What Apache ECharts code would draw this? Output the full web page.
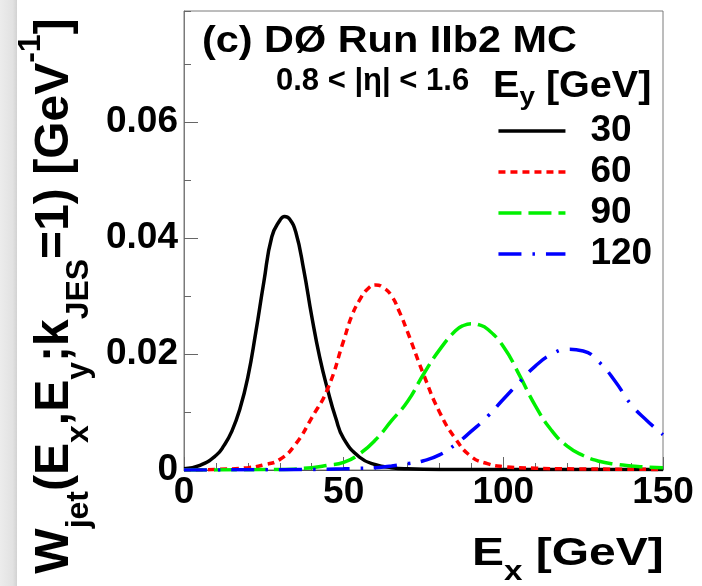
<!DOCTYPE html>
<html>
<head>
<meta charset="utf-8">
<script src="https://cdn.jsdelivr.net/npm/echarts@6/dist/echarts.min.js"></script>
<style>
  html, body { margin: 0; padding: 0; background: #ffffff; }
  #chart { width: 702px; height: 586px; }
</style>
</head>
<body>
<div id="chart"></div>
<script>
// Jet energy transfer functions W_jet(E_x, E_y; k_JES = 1) for four parton energies E_y.
const seriesNames = ['30', '60', '90', '120'];

// E_y = 30 GeV
const ex30 = [0, 5, 10, 12.5, 15, 17.5, 20, 22.5, 25, 27.5, 30, 31.5, 33, 35, 37.5, 40, 42.5, 45, 47.5, 50, 55, 60, 65, 70, 80, 100, 150];
const w30  = [0.0002, 0.0008, 0.0025, 0.0042, 0.0067, 0.0105, 0.0160, 0.0238, 0.0324, 0.0402, 0.0430, 0.0437, 0.0433, 0.0410, 0.0345, 0.0265, 0.0194, 0.0138, 0.0090, 0.0054, 0.0022, 0.0009, 0.0004, 0.0002, 0.0001, 0.0001, 0.0001];

// E_y = 60 GeV
const ex60 = [0, 10, 20, 25, 30, 35, 40, 45, 50, 52.5, 55, 57.5, 60, 62.5, 65, 67.5, 70, 75, 80, 85, 90, 95, 100, 110, 120, 150];
const w60  = [0, 0.0001, 0.0004, 0.0009, 0.0018, 0.0045, 0.0090, 0.0140, 0.0223, 0.0265, 0.0293, 0.0312, 0.0319, 0.0314, 0.0300, 0.0272, 0.0238, 0.0165, 0.0100, 0.0054, 0.0023, 0.0011, 0.0006, 0.0003, 0.0002, 0.0001];

// E_y = 90 GeV
const ex90 = [0, 30, 40, 45, 50, 55, 60, 65, 70, 75, 80, 85, 87.5, 90, 92.5, 95, 100, 105, 110, 115, 120, 125, 130, 135, 140, 145, 150];
const w90  = [0, 0.0001, 0.0004, 0.0008, 0.0013, 0.0028, 0.0052, 0.0085, 0.0118, 0.0165, 0.0207, 0.0240, 0.0249, 0.0252, 0.0250, 0.0243, 0.0213, 0.0164, 0.0111, 0.0069, 0.0041, 0.0025, 0.0015, 0.0010, 0.0007, 0.0005, 0.0004];

// E_y = 120 GeV
const ex120 = [0, 40, 50, 55, 60, 65, 70, 75, 80, 85, 90, 95, 100, 105, 110, 115, 120, 125, 130, 135, 140, 145, 150];
const w120  = [0, 0.0001, 0.0002, 0.0003, 0.0004, 0.0007, 0.0011, 0.0016, 0.0026, 0.0044, 0.0067, 0.0092, 0.0122, 0.0151, 0.0179, 0.0199, 0.0208, 0.0205, 0.0186, 0.0153, 0.0113, 0.0085, 0.0061];

const xTickValues = [0, 50, 100, 150];
const yTickLabels = ['0', '0.02', '0.04', '0.06'];

const FONT = 'Liberation Sans';
const pairs = (xs, ys) => xs.map((x, i) => [x, ys[i]]);

const curveStyles = [
  { color: '#000000', type: 'solid' },
  { color: '#ff0000', type: [7, 5] },
  { color: '#00f000', type: [23, 7] },
  { color: '#0000ff', type: [23, 11, 2.5, 11] }
];
const curveData = [pairs(ex30, w30), pairs(ex60, w60), pairs(ex90, w90), pairs(ex120, w120)];

const chart = echarts.init(document.getElementById('chart'), null, { renderer: 'canvas' });

const series = seriesNames.map((name, i) => ({
  name: name,
  type: 'line',
  data: curveData[i],
  smooth: 0.5,
  symbol: 'none',
  showSymbol: false,
  clip: true,
  animation: false,
  lineStyle: { color: curveStyles[i].color, width: 3.5, type: curveStyles[i].type, cap: 'butt' },
  itemStyle: { color: curveStyles[i].color }
}));

const yMax = 0.0791;

chart.setOption({
  animation: false,
  backgroundColor: '#ffffff',
  grid: {
    left: 184, top: 11, width: 479, height: 459,
    show: true, borderColor: '#7a7a7a', borderWidth: 1, backgroundColor: 'transparent'
  },
  xAxis: {
    type: 'value', min: 0, max: 150, interval: 50,
    axisLine: { show: true, lineStyle: { color: '#555555', width: 1 } },
    axisTick: { show: true, inside: true, length: 13, lineStyle: { color: '#666666' } },
    minorTick: { show: true, splitNumber: 5, length: 7, lineStyle: { color: '#666666' } },
    splitLine: { show: false },
    axisLabel: {
      margin: 4, color: '#000', fontFamily: FONT, fontWeight: 'bold', fontSize: 37,
      formatter: v => (xTickValues.indexOf(v) >= 0 ? String(v) : '')
    }
  },
  yAxis: [
    {
      type: 'value', min: 0, max: yMax, interval: 0.02, position: 'left',
      axisLine: { show: true, lineStyle: { color: '#7a7a7a', width: 1 } },
      axisTick: { show: true, inside: true, length: 14, lineStyle: { color: '#666666' } },
      splitLine: { show: false },
      axisLabel: {
        margin: 6, color: '#000', fontFamily: FONT, fontWeight: 'bold', fontSize: 37,
        showMaxLabel: false,
        formatter: v => {
          const k = Math.round(v / 0.02);
          return (Math.abs(v - k * 0.02) < 1e-9 && k < yTickLabels.length) ? yTickLabels[k] : '';
        }
      }
    },
    {
      type: 'value', min: 0, max: yMax, interval: 0.01, position: 'left',
      axisLine: { show: false },
      axisTick: { show: true, inside: true, length: 7, lineStyle: { color: '#666666' } },
      splitLine: { show: false },
      axisLabel: { show: false }
    }
  ],
  legend: {
    orient: 'vertical',
    left: 496.7, top: 110.5,
    padding: 0,
    itemWidth: 67, itemHeight: 14, itemGap: 0,
    data: seriesNames,
    itemStyle: { color: 'transparent', borderColor: 'transparent', borderWidth: 0, opacity: 0 },
    lineStyle: { width: 3.5 },
    formatter: name => '{pad|}' + name,
    textStyle: {
      color: '#000', fontFamily: FONT, fontWeight: 'bold', fontSize: 37, lineHeight: 41,
      rich: { pad: { width: 20 } }
    }
  },
  series: series,
  graphic: [
    // faint grey edge along the left margin
    {
      type: 'rect', left: 0, top: 0, silent: true,
      shape: { x: 0, y: 0, width: 17, height: 586 },
      style: {
        fill: new echarts.graphic.LinearGradient(0, 0, 1, 0, [
          { offset: 0, color: '#ececec' },
          { offset: 0.75, color: '#e2e2e2' },
          { offset: 1, color: '#d2d2d2' }
        ])
      }
    },
    // panel label
    {
      type: 'text', x: 202, y: 42, scaleX: 1.15, silent: true,
      style: {
        text: '(c) DØ Run IIb2 MC', fill: '#000',
        fontFamily: FONT, fontWeight: 'bold', fontSize: 36,
        align: 'left', verticalAlign: 'middle'
      }
    },
    {
      type: 'text', x: 276, y: 81, silent: true,
      style: {
        text: '0.8 < |η| < 1.6', fill: '#000',
        fontFamily: FONT, fontWeight: 'bold', fontSize: 31,
        align: 'left', verticalAlign: 'middle'
      }
    },
    // legend header
    {
      type: 'text', x: 493, y: 87, scaleX: 1.07, silent: true,
      style: {
        text: '{m|E}{s|y}{m| [GeV]}', fill: '#000',
        fontFamily: FONT, fontWeight: 'bold', fontSize: 37,
        align: 'left', verticalAlign: 'middle',
        rich: {
          m: { fontFamily: FONT, fontWeight: 'bold', fontSize: 37, lineHeight: 48 },
          s: { fontFamily: FONT, fontWeight: 'bold', fontSize: 26, lineHeight: 26, verticalAlign: 'bottom' }
        }
      }
    },
    // x axis title
    {
      type: 'text', x: 472, y: 554, scaleX: 1.23, silent: true,
      style: {
        text: '{m|E}{s|x}{m| [GeV]}', fill: '#000',
        fontFamily: FONT, fontWeight: 'bold', fontSize: 39,
        align: 'left', verticalAlign: 'middle',
        rich: {
          m: { fontFamily: FONT, fontWeight: 'bold', fontSize: 39, lineHeight: 64 },
          s: { fontFamily: FONT, fontWeight: 'bold', fontSize: 27, lineHeight: 28, verticalAlign: 'bottom' }
        }
      }
    },
    // y axis title, reading upwards
    {
      type: 'text', x: 55, y: 296, rotation: Math.PI / 2, silent: true,
      style: {
        text: '{m|W}{a|jet}{m|(E}{b|x}{m|,E}{b|y}{m|;k}{a|JES}{m|=1) [GeV}{p|-1}{m|]}', fill: '#000',
        fontFamily: FONT, fontWeight: 'bold', fontSize: 48,
        align: 'center', verticalAlign: 'middle',
        rich: {
          m: { fontFamily: FONT, fontWeight: 'bold', fontSize: 48, lineHeight: 80 },
          a: { fontFamily: FONT, fontWeight: 'bold', fontSize: 32, lineHeight: 33, verticalAlign: 'bottom' },
          b: { fontFamily: FONT, fontWeight: 'bold', fontSize: 32, lineHeight: 55, verticalAlign: 'bottom' },
          p: { fontFamily: FONT, fontWeight: 'bold', fontSize: 32, lineHeight: 47, verticalAlign: 'top' }
        }
      }
    }
  ]
});
</script>
</body>
</html>
